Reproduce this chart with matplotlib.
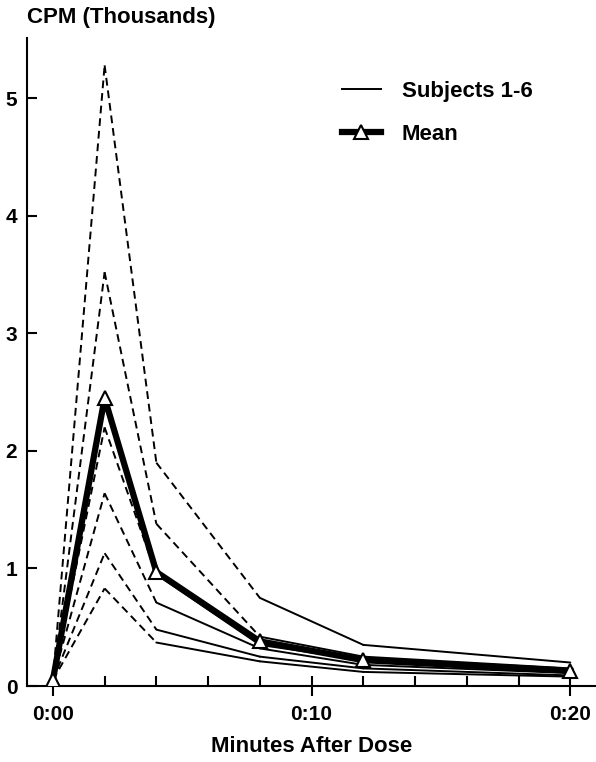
import numpy as np
import matplotlib.pyplot as plt
from matplotlib.lines import Line2D

# minutes after dose
minutes = [0, 2, 4, 8, 12, 20]

# CPM (thousands) per subject
subj1 = [0.05, 5.28, 1.90, 0.75, 0.35, 0.20]
subj2 = [0.05, 3.52, 1.38, 0.42, 0.25, 0.15]
subj3 = [0.05, 2.20, 0.95, 0.35, 0.22, 0.12]
subj4 = [0.05, 1.64, 0.71, 0.32, 0.18, 0.11]
subj5 = [0.05, 1.13, 0.48, 0.25, 0.15, 0.09]
subj6 = [0.05, 0.83, 0.37, 0.21, 0.12, 0.08]
mean_cpm = [0.05, 2.45, 0.97, 0.38, 0.22, 0.13]

# number of leading segments drawn dashed for each subject
n_dashed = [3, 3, 2, 2, 2, 2]

subjects = [subj1, subj2, subj3, subj4, subj5, subj6]

plt.rcParams['font.family'] = ['Liberation Sans', 'DejaVu Sans']
plt.rcParams['font.weight'] = 'bold'

fig = plt.figure(figsize=(5.96, 7.62), dpi=100)
ax = fig.add_axes([0.0453, 0.0997, 0.955, 0.850])

for vals, nd in zip(subjects, n_dashed):
    for i in range(len(minutes) - 1):
        ls = (0, (4, 2.5)) if i < nd else '-'
        ax.plot(minutes[i:i + 2], vals[i:i + 2], color='black', lw=1.4,
                linestyle=ls, solid_capstyle='round')

ax.plot(minutes, mean_cpm, color='black', lw=4.5, marker='^', markersize=10,
        markerfacecolor='white', markeredgecolor='black', markeredgewidth=1.5,
        zorder=5)

ax.set_xlim(-1, 21)
ax.set_ylim(0, 5.51)

ax.spines['top'].set_visible(False)
ax.spines['right'].set_visible(False)
ax.spines['left'].set_linewidth(1.5)
ax.spines['bottom'].set_linewidth(1.5)

ax.set_yticks([0, 1, 2, 3, 4, 5])
ax.set_yticklabels(['0', '1', '2', '3', '4', '5'])
ax.set_xticks([0, 10, 20])
ax.set_xticklabels(['0:00', '0:10', '0:20'])
ax.set_xticks(np.arange(2, 20, 2), minor=True)

ax.tick_params(axis='y', direction='in', length=7, width=1.5, pad=7, labelsize=15)
ax.tick_params(axis='x', which='major', direction='inout', length=15, width=1.5,
               pad=6, labelsize=15)
ax.tick_params(axis='x', which='minor', direction='in', length=7, width=1.5)

fig.text(0.046, 0.977, 'CPM (Thousands)', fontsize=16, fontweight='bold',
         ha='left', va='center')
ax.set_xlabel('Minutes After Dose', fontsize=16, fontweight='bold', labelpad=9)

handles = [Line2D([], [], color='black', lw=1.4),
           Line2D([], [], color='black', lw=4.5, marker='^', markersize=10,
                  markerfacecolor='white', markeredgewidth=1.5)]
ax.legend(handles, ['Subjects 1-6', 'Mean'], loc='upper left',
          bbox_to_anchor=(0.518, 0.965), frameon=False, fontsize=16,
          handlelength=1.75, handletextpad=0.95, labelspacing=1.0)

fig.savefig('out.png', dpi=100)
